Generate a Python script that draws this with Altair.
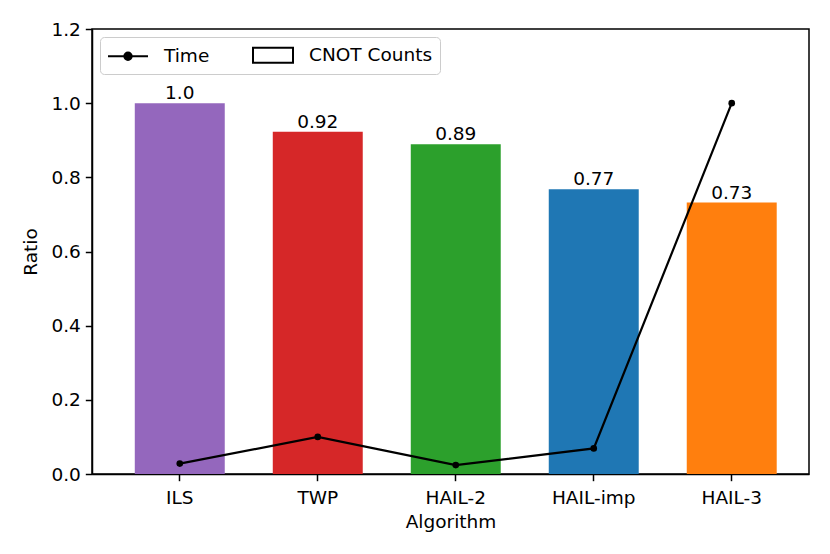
import altair as alt
import pandas as pd

algos = ["ILS", "TWP", "HAIL-2", "HAIL-imp", "HAIL-3"]
cnot_ratio = [1.0, 0.923, 0.889, 0.768, 0.732]
cnot_labels = ["1.0", "0.92", "0.89", "0.77", "0.73"]
time_ratio = [0.028, 0.100, 0.024, 0.069, 1.0]
bar_colors = ["#9467bd", "#d62728", "#2ca02c", "#1f77b4", "#ff7f0e"]
y_ticks = [0.0, 0.2, 0.4, 0.6, 0.8, 1.0, 1.2]
series_names = ["Time", "CNOT Counts"]

df = pd.DataFrame({
    "algo": algos,
    "cnot": cnot_ratio,
    "label": cnot_labels,
    "time": time_ratio,
    "series": ["Time"] * len(algos),
})

FONT = "DejaVu Sans"
FS = 18.5

x_enc = alt.X(
    "algo:N",
    sort=algos,
    scale=alt.Scale(paddingInner=0.348, paddingOuter=0.272, align=0.57),
    axis=alt.Axis(
        title="Algorithm", labelAngle=0, labelFontSize=FS, titleFontSize=FS,
        labelFont=FONT, titleFont=FONT, labelColor="black", titleColor="black",
        titleFontWeight="normal", tickSize=6.7, tickWidth=1.5, tickColor="black",
        domainColor="black", domainWidth=1.5, labelPadding=8, titlePadding=5,
        grid=False,
    ),
)

y_axis = alt.Axis(
    title="Ratio", values=y_ticks, format=".1f", labelFontSize=FS, titleFontSize=FS,
    labelFont=FONT, titleFont=FONT, labelColor="black", titleColor="black",
    titleFontWeight="normal", tickSize=6.7, tickWidth=1.5, tickColor="black",
    domainColor="black", domainWidth=1.5, labelPadding=5, titlePadding=10,
    grid=False,
)
y_scale = alt.Scale(domain=[0, 1.2], nice=False, zero=True)

base = alt.Chart(df)

bars = base.mark_bar().encode(
    x=x_enc,
    y=alt.Y("cnot:Q", scale=y_scale, axis=y_axis),
    color=alt.Color("algo:N", scale=alt.Scale(domain=algos, range=bar_colors), legend=None),
)

texts = base.mark_text(
    baseline="alphabetic", dy=-4, fontSize=FS, font=FONT, color="black"
).encode(
    x=x_enc,
    y=alt.Y("cnot:Q", scale=y_scale, axis=y_axis),
    text="label:N",
)

line = base.mark_line(color="black", strokeWidth=2.2).encode(
    x=x_enc,
    y=alt.Y("time:Q", scale=y_scale, axis=y_axis),
)

pts = base.mark_point(filled=True, color="black", size=44, opacity=1).encode(
    x=x_enc,
    y=alt.Y("time:Q", scale=y_scale, axis=y_axis),
)

time_sym = "M-1,0L3,0M0.63,0A0.37,0.37 0 1,1 1.37,0A0.37,0.37 0 1,1 0.63,0Z"
cnot_sym = "M-1,-0.75L3,-0.75L3,0.75L-1,0.75Z"

leg = alt.Legend(
    title=None, orient="top-left", direction="horizontal", columns=2,
    offset=8, padding=7, columnPadding=39, labelOffset=35,
    labelFontSize=FS, labelFont=FONT, labelColor="black",
    strokeColor="#cccccc", fillColor="white", cornerRadius=4,
    symbolStrokeWidth=2, symbolSize=400, symbolOpacity=1,
)

legend_layer = base.transform_filter("false").mark_point(filled=True, size=400, opacity=1).encode(
    x=x_enc,
    y=alt.Y("time:Q", scale=y_scale, axis=y_axis),
    shape=alt.Shape("series:N", scale=alt.Scale(domain=series_names, range=[time_sym, cnot_sym]), legend=leg),
    fill=alt.Fill("series:N", scale=alt.Scale(domain=series_names, range=["black", "white"]), legend=leg),
    stroke=alt.Stroke("series:N", scale=alt.Scale(domain=series_names, range=["black", "black"]), legend=leg),
)

chart = alt.layer(bars, texts, line, pts, legend_layer).properties(
    width=717,
    height=445,
    autosize=alt.AutoSizeParams(type="none"),
    padding={"left": 84, "top": 21, "right": 13, "bottom": 72},
).configure(
    background="white",
    view=alt.ViewConfig(stroke="black", strokeWidth=1.5),
)

chart.save("out.html", embed_options={"renderer": "svg", "actions": False})
